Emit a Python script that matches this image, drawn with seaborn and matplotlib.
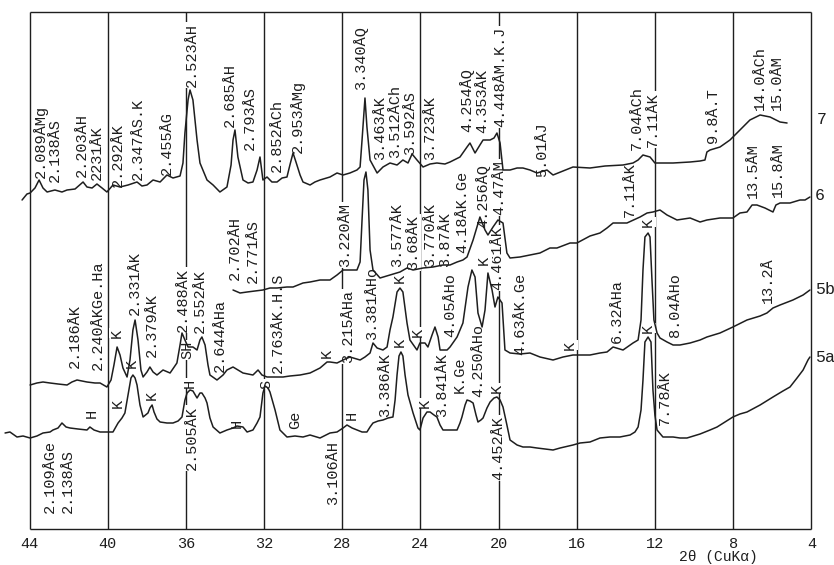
import matplotlib
matplotlib.use("Agg")
import matplotlib.pyplot as plt
import seaborn as sns
import pandas as pd

sns.set_theme(style="white")
plt.rcParams['font.family'] = ['Liberation Mono', 'DejaVu Sans Mono', 'DejaVu Sans']

# ---------------- data (2-theta in degrees, relative intensity) ----------------
TWO_THETA_7 = [44.38, 44.13, 43.97, 43.72, 43.51, 43.31, 43.10, 42.70, 42.34, 42.08, 41.67, 41.26, 41.06, 40.80,
               40.55, 40.29, 40.04, 39.73, 39.37, 38.96, 38.50, 38.25, 37.99, 37.68, 37.32, 36.97, 36.66, 36.30,
               36.15, 36.05, 35.89, 35.79, 35.64, 35.43, 35.28, 34.92, 34.61, 34.26, 33.90, 33.69, 33.59, 33.49,
               33.34, 33.08, 32.82, 32.57, 32.36, 32.21, 32.06, 31.85, 31.60, 31.34, 31.08, 30.83, 30.68, 30.52,
               30.37, 30.16, 30.01, 29.65, 29.40, 29.14, 28.63, 28.27, 27.96, 27.61, 27.25, 27.09, 26.99, 26.84,
               26.74, 26.58, 26.22, 25.92, 25.56, 25.20, 24.90, 24.64, 24.43, 24.18, 23.87, 23.51, 23.16, 22.75,
               22.49, 21.98, 21.62, 21.47, 21.21, 20.96, 20.80, 20.44, 20.24, 20.09, 19.93, 19.78, 19.42, 19.06,
               18.76, 18.40, 18.04, 17.53, 17.22, 16.71, 16.20, 15.33, 14.56, 13.64, 13.13, 12.87, 12.62, 12.26,
               12.01, 11.08, 10.21, 9.70, 9.45, 9.35, 9.19, 8.68, 8.17, 7.66, 7.15, 6.63, 6.12, 5.61, 5.25]
COUNTS_7 = [329, 335, 336, 341, 349, 341, 337, 339, 337, 339, 340, 347, 342, 341,
            345, 341, 337, 344, 342, 344, 347, 343, 344, 349, 347, 354, 351, 353,
            366, 396, 429, 439, 429, 389, 366, 349, 344, 337, 342, 364, 389, 399,
            372, 349, 346, 347, 359, 372, 349, 352, 347, 347, 351, 352, 364, 376,
            367, 354, 347, 344, 347, 349, 352, 356, 354, 356, 359, 362, 389, 431,
            402, 369, 356, 362, 366, 364, 369, 366, 375, 369, 362, 365, 366, 365,
            367, 372, 382, 386, 376, 384, 389, 389, 391, 396, 386, 359, 359, 361,
            361, 359, 356, 359, 354, 358, 362, 361, 363, 364, 366, 369, 374, 372,
            366, 366, 367, 368, 369, 377, 379, 382, 389, 399, 409, 414, 412, 407, 406]

TWO_THETA_6 = [33.59, 33.23, 32.87, 32.47, 32.06, 31.70, 31.34, 30.83, 30.52, 30.01, 29.65, 29.14, 28.63, 28.27,
               27.96, 27.61, 27.25, 27.09, 26.99, 26.89, 26.79, 26.69, 26.58, 26.43, 26.07, 25.56, 25.05, 24.69,
               24.38, 23.87, 23.36, 22.85, 22.49, 22.13, 21.83, 21.62, 21.31, 20.96, 20.70, 20.55, 20.29, 20.04,
               19.78, 19.58, 19.42, 18.91, 18.40, 17.89, 17.38, 17.02, 16.35, 16.00, 15.33, 14.82, 14.46, 14.15,
               13.44, 12.77, 12.41, 12.11, 11.75, 11.39, 10.88, 10.21, 9.70, 9.35, 8.68, 8.02, 7.66, 7.30, 7.04,
               6.79, 6.38, 5.97, 5.82, 5.61, 5.10, 4.59, 4.33, 4.08]
COUNTS_6 = [239, 236, 237, 238, 239, 241, 241, 242, 242, 246, 247, 249, 249, 254,
            259, 259, 259, 267, 309, 349, 357, 339, 279, 259, 251, 254, 257, 261,
            259, 261, 262, 264, 264, 267, 269, 272, 289, 312, 299, 294, 302, 309,
            306, 276, 271, 272, 274, 276, 281, 281, 286, 286, 293, 296, 301, 306,
            306, 312, 316, 317, 319, 314, 309, 311, 307, 309, 311, 311, 316, 317, 324,
            324, 321, 317, 324, 326, 326, 329, 329, 332]

TWO_THETA_5B = [43.97, 43.62, 43.31, 42.95, 42.54, 42.08, 41.83, 41.57, 41.31, 41.06, 40.65, 40.39, 40.04, 39.83,
                39.68, 39.52, 39.37, 39.22, 39.01, 38.86, 38.71, 38.60, 38.45, 38.30, 38.19, 37.99, 37.84, 37.68,
                37.48, 37.17, 36.81, 36.46, 36.30, 36.20, 36.05, 35.89, 35.64, 35.43, 35.28, 35.18, 35.02, 34.87,
                34.77, 34.41, 34.10, 33.90, 33.59, 33.34, 33.08, 32.57, 32.31, 32.11, 31.85, 31.44, 31.03, 30.68,
                30.16, 29.65, 29.14, 28.78, 28.63, 28.27, 27.96, 27.61, 27.09, 26.84, 26.58, 26.43, 26.22, 25.92,
                25.71, 25.56, 25.41, 25.20, 25.05, 24.90, 24.69, 24.54, 24.18, 24.03, 23.77, 23.62, 23.41, 23.26,
                23.10, 23.00, 22.64, 22.49, 22.13, 21.83, 21.57, 21.37, 21.21, 21.06, 20.85, 20.70, 20.55, 20.34,
                20.19, 20.04, 19.83, 19.68, 19.42, 18.91, 18.40, 17.89, 17.22, 16.71, 16.20, 15.33, 14.82, 14.46,
                14.15, 13.64, 13.13, 12.87, 12.72, 12.62, 12.52, 12.36, 12.26, 12.16, 12.06, 11.90, 11.75, 11.39,
                11.08, 10.73, 10.21, 9.70, 9.35, 8.68, 8.02, 7.30, 6.63, 6.28, 5.97, 5.61, 4.95, 4.43, 4.08]
COUNTS_5B = [144, 146, 147, 146, 145, 144, 147, 149, 148, 147, 146, 146, 142, 149,
             164, 182, 174, 161, 152, 169, 199, 209, 189, 159, 152, 157, 162, 157,
             154, 159, 156, 166, 184, 196, 189, 182, 182, 179, 189, 192, 184, 164,
             154, 149, 154, 159, 162, 159, 156, 154, 159, 154, 152, 152, 152, 153,
             154, 156, 161, 167, 167, 166, 169, 172, 169, 172, 176, 186, 181, 179,
             182, 199, 212, 237, 241, 237, 206, 189, 179, 186, 186, 182, 194, 202,
             192, 179, 179, 182, 192, 206, 242, 259, 252, 216, 202, 219, 256, 239,
             222, 232, 226, 179, 176, 175, 176, 172, 169, 172, 174, 174, 176, 177,
             182, 179, 186, 189, 209, 259, 292, 296, 292, 249, 209, 196, 191, 187,
             184, 184, 186, 189, 192, 196, 202, 209, 213, 216, 221, 224, 229, 234, 239]

TWO_THETA_5A = [45.25, 45.00, 44.64, 44.33, 43.97, 43.62, 43.31, 42.95, 42.80, 42.54, 42.34, 42.13, 41.93, 41.52,
                41.06, 40.91, 40.70, 40.39, 40.04, 39.73, 39.47, 39.27, 39.12, 38.96, 38.81, 38.71, 38.60, 38.50,
                38.35, 38.19, 37.94, 37.84, 37.73, 37.63, 37.48, 37.32, 36.97, 36.66, 36.40, 36.20, 36.05, 35.94,
                35.79, 35.64, 35.43, 35.28, 35.18, 35.02, 34.92, 34.77, 34.61, 34.26, 33.90, 33.59, 33.39, 33.08,
                32.87, 32.57, 32.36, 32.21, 32.06, 31.95, 31.80, 31.70, 31.44, 31.19, 30.83, 30.42, 30.01, 29.65,
                29.14, 28.63, 28.27, 27.96, 27.76, 27.50, 27.25, 26.99, 26.74, 26.58, 26.43, 26.17, 25.92, 25.66,
                25.41, 25.30, 25.20, 25.10, 25.00, 24.90, 24.79, 24.64, 24.38, 24.13, 24.03, 23.87, 23.67, 23.51,
                23.31, 23.16, 23.00, 22.85, 22.49, 22.13, 21.98, 21.88, 21.72, 21.62, 21.47, 21.31, 21.16, 21.06,
                20.91, 20.80, 20.60, 20.44, 20.24, 20.09, 19.93, 19.78, 19.58, 19.42, 19.06, 18.76, 18.40, 18.04,
                17.63, 17.22, 16.86, 16.20, 15.84, 15.33, 14.82, 14.31, 13.80, 13.28, 13.03, 12.87, 12.72, 12.62,
                12.52, 12.36, 12.21, 12.11, 12.01, 11.90, 11.60, 11.08, 10.73, 10.37, 9.70, 9.19, 8.83, 8.42, 8.02,
                7.66, 7.30, 6.63, 5.97, 5.46, 5.10, 4.74, 4.43, 4.18, 4.08]
COUNTS_5A = [96, 97, 92, 93, 91, 93, 96, 97, 99, 101, 106, 102, 101, 100,
             99, 102, 99, 97, 97, 97, 106, 111, 116, 134, 151, 154, 151, 144,
             124, 112, 116, 121, 124, 117, 110, 107, 106, 106, 108, 112, 129, 136,
             139, 138, 131, 136, 136, 131, 126, 111, 102, 96, 99, 101, 103, 102,
             97, 99, 106, 112, 136, 143, 141, 137, 119, 99, 92, 93, 92, 94,
             91, 96, 97, 101, 104, 101, 99, 97, 97, 102, 106, 108, 109, 111,
             112, 129, 154, 173, 177, 173, 154, 134, 116, 101, 99, 111, 117, 117,
             114, 112, 104, 99, 99, 99, 106, 112, 124, 129, 128, 126, 114, 107,
             109, 111, 121, 127, 131, 132, 129, 122, 104, 89, 84, 82, 82, 81,
             80, 79, 81, 84, 86, 87, 91, 92, 92, 94, 97, 102, 119, 149,
             187, 192, 187, 139, 114, 99, 92, 92, 91, 91, 95, 99, 102, 107, 112,
             115, 117, 124, 132, 138, 142, 151, 159, 169, 172]

SAMPLES = ["7", "6", "5b", "5a"]
TICKS = [44, 40, 36, 32, 28, 24, 20, 16, 12, 8, 4]
X_LABEL = "2θ (CuKα)"

# peak annotations: (text, 2-theta, height)
PEAK_LABELS = [
    ("2.089ÅMg", 43.46, 351), ("2.138ÅS", 42.70, 347), ("2.203ÅH", 41.31, 352), ("2231ÅK", 40.55, 349),
    ("2.292ÅK", 39.47, 342), ("2.347ÅS.K", 38.45, 349), ("2.455ÅG", 36.97, 354), ("2.523ÅH", 35.69, 442),
    ("2.685ÅH", 33.74, 402), ("2.793ÅS", 32.72, 379), ("2.852ÅCh", 31.34, 357), ("2.953ÅMg", 30.32, 376),
    ("3.340ÅQ", 27.09, 439), ("3.463ÅK", 26.07, 369), ("3.512ÅCh", 25.30, 371), ("3.592ÅS", 24.54, 374),
    ("3.723ÅK", 23.51, 369), ("4.254ÅQ", 21.62, 397), ("4.353ÅK", 20.85, 396), ("4.448ÅM.K.J", 19.93, 402),
    ("5.01ÅJ", 17.78, 352), ("7.04ÅCh", 12.93, 379), ("7.11ÅK", 12.11, 382), ("9.8Å.T", 9.04, 386),
    ("14.0ÅCh", 6.63, 419), ("15.0ÅM", 5.77, 419),
    # sample 6
    ("7.11ÅK", 13.28, 312), ("13.5ÅM", 6.99, 331), ("15.8ÅM", 5.71, 332), ("4.18ÅK.Ge", 21.88, 276),
    ("4.256ÅQ", 20.80, 301), ("4.47ÅM", 19.98, 314), ("3.220ÅM", 27.86, 262), ("2.702ÅH", 33.49, 249),
    ("2.771ÅS", 32.57, 246), ("3.577ÅK", 25.20, 262), ("3.68ÅK", 24.38, 259), ("3.770ÅK", 23.51, 262),
    ("3.87ÅK", 22.75, 262),
    # sample 5b
    ("2.186ÅK", 41.67, 161), ("2.240ÅKGe.Ha", 40.50, 159), ("2.331ÅK", 38.60, 214), ("2.379ÅK", 37.73, 172),
    ("2.488ÅK", 36.15, 197), ("2.552ÅK", 35.28, 196), ("2.644ÅHa", 34.26, 157), ("2.763ÅK.H.S", 31.29, 156),
    ("3.215ÅHa", 27.71, 166), ("3.381ÅHo", 26.48, 189), ("4.05ÅHo", 22.49, 192), ("4.461ÅK", 20.09, 239),
    ("4.63ÅK.Ge", 18.91, 174), ("6.32ÅHa", 13.95, 186), ("8.04ÅHo", 10.98, 192), ("13.2Å", 6.22, 226),
    # sample 5a
    ("3.386ÅK", 25.82, 112), ("3.841ÅK", 22.90, 112), ("K.Ge", 21.98, 136), ("4.250ÅHo", 21.06, 132),
    ("4.452ÅK", 20.04, 49), ("2.109ÅGe", 42.95, 16), ("2.138ÅS", 42.03, 16), ("2.505ÅK", 35.69, 59),
    ("3.106ÅH", 28.48, 24), ("7.78ÅK", 11.49, 104),
]
# short phase markers: (text, 2-theta, height of centre)
PHASE_MARKS = [
    ("K", 39.52, 196), ("SH", 35.94, 179), ("K", 28.78, 176), ("K", 25.05, 251), ("K", 24.13, 197),
    ("K", 20.75, 269), ("K", 16.35, 184), ("K", 12.36, 307),
    ("H", 40.80, 116), ("K", 39.47, 126), ("K", 38.76, 166), ("K", 37.73, 134), ("H", 35.79, 146),
    ("H", 33.39, 106), ("S", 31.90, 145), ("Ge", 30.42, 109), ("H", 27.50, 114), ("K", 25.05, 187),
    ("K", 23.77, 126), ("K", 20.09, 141), ("K", 12.36, 201),
]
# sample tags at the right edge: (text, 2-theta, height)
SAMPLE_TAGS = [("7", 3.46, 409), ("6", 3.56, 334), ("5b", 3.80, 239), ("5a", 3.80, 171)]

# ---------------- build table ----------------
series = [(TWO_THETA_7, COUNTS_7), (TWO_THETA_6, COUNTS_6), (TWO_THETA_5B, COUNTS_5B), (TWO_THETA_5A, COUNTS_5A)]
frames = []
for name, (xs, ys) in zip(SAMPLES, series):
    frames.append(pd.DataFrame({"two_theta": xs, "intensity": ys, "sample": name}))
df = pd.concat(frames, ignore_index=True)

INK = "#1e1e1e"

fig = plt.figure(figsize=(8.34, 5.65), dpi=100)
ax = fig.add_axes([0, 0, 1, 1])
ax.set_xlim(45.509, 2.849)
ax.set_ylim(-36, 529)
ax.axis("off")

# frame and grid
TOP = 517
ax.vlines(TICKS, 0, TOP, color=INK, lw=1.0, zorder=1)
ax.hlines([0, TOP], TICKS[0], TICKS[-1], color=INK, lw=1.0, zorder=1)

sns.lineplot(data=df, x="two_theta", y="intensity", units="sample", estimator=None, sort=False,
             color=INK, lw=1.1, ax=ax, legend=False, zorder=3)

box = dict(boxstyle="square,pad=0.05", fc="white", ec="none")
for s, x, y in PEAK_LABELS:
    ax.text(x, y, s, rotation=90, ha="center", va="bottom", fontsize=11, color=INK, zorder=2, bbox=box)
for s, x, y in PHASE_MARKS:
    ax.text(x, y, s, rotation=90, ha="center", va="center", fontsize=11, color=INK, zorder=2, bbox=box)
for s, x, y in SAMPLE_TAGS:
    ax.text(x, y, s, ha="left" if len(s) > 1 else "center", va="center", fontsize=12, color=INK)

for t in TICKS:
    ax.text(t, -14.5, str(t), ha="center", va="center", fontsize=11, color=INK)
ax.text(8.78, -28, X_LABEL, ha="center", va="center", fontsize=10.5, color=INK)

fig.savefig("out.png", dpi=100, facecolor="white")
